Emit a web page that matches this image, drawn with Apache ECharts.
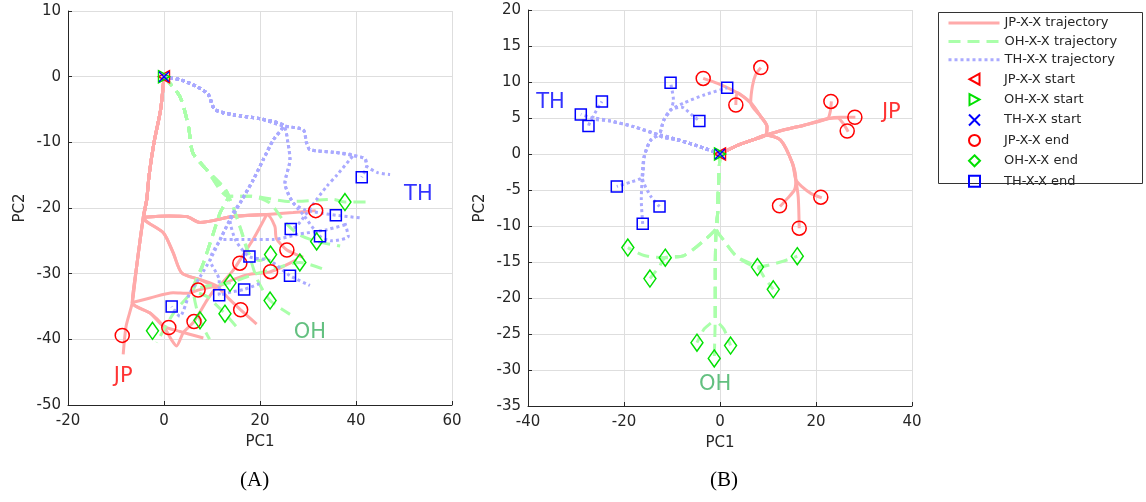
<!DOCTYPE html>
<html>
<head>
<meta charset="utf-8">
<script src="https://cdn.jsdelivr.net/npm/echarts@6/dist/echarts.min.js"></script>
<style>
  html, body { margin: 0; padding: 0; background: #fff; }
  #chart { width: 1146px; height: 502px; }
</style>
</head>
<body>
<div id="chart"></div>
<script>
// ---- panel A data ----
var jpTrunkA = [[0,0],[-0.7,-5],[-2.1,-10.1],[-3.1,-15],[-3.6,-18.7],[-4.3,-21.4]];
var jpLowA = [[-5.0,-25],[-5.7,-28.9],[-6.6,-34.4]];
var jpTopA = [[1,-21.2],[4.7,-21.3],[7.5,-22.2],[14.4,-21.3],[21.4,-21.0]];
var jpMidA = [[-0.1,-23.8],[1.9,-26.8],[3.7,-29.9],[7.5,-30.9],[11,-31.9]];
var jpPathsA = [
  jpTrunkA.concat(jpLowA, [[-7.9,-38],[-8.5,-42.3]]),
  jpTrunkA.concat(jpTopA, [[26.9,-20.7],[31.6,-20.4]]),
  jpTrunkA.concat(jpTopA, [[18.8,-24.5],[16.2,-27.5],[14.4,-29.5],[12,-31.5]]),
  jpTrunkA.concat(jpTopA, [[23.1,-22.8],[23.4,-24.6],[25.6,-26.4],[29,-27.5]]),
  jpTrunkA.concat(jpMidA, [[14.4,-30.9],[17.9,-30.1],[22.2,-29.7],[27.6,-27.9]]),
  jpTrunkA.concat(jpLowA, [[-2.9,-33.7],[1.9,-32.9],[5,-33],[7.1,-32.5],[11,-31.9]]),
  jpTrunkA.concat(jpLowA, [[-2.9,-36],[-0.1,-38],[3.3,-38.8],[8.2,-39.8]]),
  jpTrunkA.concat(jpLowA, [[-2.9,-36],[-0.1,-38],[1.5,-40],[2.6,-41],[4,-39],[6.25,-37.3],[9,-34],[11,-31.9]]),
  jpTrunkA.concat(jpMidA, [[13.5,-33.8],[15.97,-35.5],[19.3,-37.7]])
];
var ohTrunkA = [[0,0],[3.3,-3],[5.1,-7.6],[6,-11.6],[8.9,-14.2],[13.4,-18.2]];
var ohLeftA = [[11.7,-20.7],[10.3,-23.8],[8.2,-28.4],[6.1,-32.4]];
var ohPathsA = [
  ohTrunkA.concat([[17.9,-18.2],[26.25,-19],[35.3,-18.7],[37.7,-19.1],[42.9,-19.1]]),
  ohTrunkA.concat(ohLeftA, [[2,-36],[-1.5,-40.5]]),
  ohTrunkA.concat(ohLeftA, [[7.5,-37.1],[9.5,-40]]),
  ohTrunkA.concat(ohLeftA, [[9.5,-31.8],[13.75,-31.4],[18,-30.3],[23.5,-29.1],[28.3,-28.3],[33.5,-29.4]]),
  ohTrunkA.concat([[15.8,-22.8],[17.6,-26.8],[20,-28],[22.2,-27.1]]),
  ohTrunkA.concat([[15.8,-22.8],[17.6,-26.8],[19.5,-31],[22.1,-34.1],[26.25,-36.2]]),
  ohTrunkA.concat([[17.9,-18.2],[22,-19.2],[25,-22],[28,-24],[31.8,-25.1],[36.7,-25.8]]),
  ohTrunkA.concat(ohLeftA, [[9,-33.5],[12.7,-36.1],[15,-38]])
];
var thTrunkA = [[0,0],[3.5,-0.5],[6.8,-1.5],[9.2,-2.7],[10.6,-5],[14.4,-5.8],[20,-6.4],[24.9,-7.5]];
var thRightA = [[29,-8.1],[29.7,-10.1],[30.4,-11.1],[35.3,-11.5],[39.4,-12]];
var thDiagA = [[22.8,-9.6],[20.7,-12.6],[18.6,-15.7],[16.2,-18.8],[13.75,-21.8]];
var thMiddleA = [[25.8,-10],[26.25,-12.6],[25.2,-16.2],[26.9,-19.2]];
var thPathsA = [
  thTrunkA.concat(thRightA, [[41.9,-12.5],[42.2,-13.6],[44.5,-14.6],[47.1,-14.9]]),
  thTrunkA.concat(thRightA, [[41.9,-12.5],[42.2,-13.6],[41.2,-15.3]]),
  thTrunkA.concat(thRightA, [[38.75,-12.6],[36,-15],[33.9,-16.7],[31.8,-18.7],[29.5,-21],[27.6,-22.8],[26.4,-23.2]]),
  thTrunkA.concat(thDiagA, [[11.7,-24.8],[9.6,-27.9],[7.5,-30.5],[5.4,-32.9],[3.3,-36.5],[1.6,-35]]),
  thTrunkA.concat(thMiddleA, [[29.5,-20.3],[33,-20.8],[35.8,-21.1],[40.8,-21.5]]),
  thTrunkA.concat(thMiddleA, [[29,-21],[32.5,-24.3],[35,-25],[38.4,-24.3],[37.7,-22.3]]),
  thTrunkA.concat(thDiagA, [[11.7,-24.8],[16,-24.8],[22.8,-24.8],[28,-24],[33.9,-23.3],[38,-22.5]]),
  thTrunkA.concat(thDiagA, [[15,-25],[17.8,-27.4],[22,-28],[26.25,-30.3],[30.4,-31.8]]),
  thTrunkA.concat(thDiagA, [[11.7,-24.8],[9.6,-27.9],[11.5,-31],[11.5,-33.3],[14,-32.8],[16.7,-32.4],[20,-31.5]])
];
var jpEndA = [[-8.7,-39.4],[1.0,-38.2],[6.25,-37.3],[7.1,-32.5],[15.8,-28.4],[15.97,-35.5],[22.2,-29.7],[25.6,-26.4],[31.6,-20.4]];
var ohEndA = [[-2.4,-38.7],[7.5,-37.1],[12.7,-36.1],[13.75,-31.4],[22.2,-27.1],[22.1,-34.1],[28.3,-28.3],[31.8,-25.1],[37.7,-19.1]];
var thEndA = [[1.6,-35.0],[11.5,-33.3],[16.7,-32.4],[17.8,-27.4],[26.4,-23.2],[26.25,-30.3],[32.5,-24.3],[35.8,-21.1],[41.2,-15.3]];
var groupLabelsA = [['JP',-8.5,-45.7],['OH',30.4,-39],['TH',53,-18]];

// ---- panel B data ----
var jpTrunkB = [[0,0],[4,1.3],[7,2],[9.5,2.6]];
var jpUpB = [[9.8,3.8],[8.5,5.2],[6.4,7.1]];
var jpRightB = [[13,3.3],[17.5,4.0],[22.4,4.9]];
var jpDownB = [[12.6,1.95],[15.1,-1.3],[15.8,-3.6]];
var jpPathsB = [
  jpTrunkB.concat(jpUpB, [[3.6,8.5],[-0.5,9.8],[-3.5,10.5]]),
  jpTrunkB.concat(jpUpB, [[6.75,9.4],[7.4,11.0],[8.5,12]]),
  jpTrunkB.concat(jpUpB, [[3.6,8.5],[3.3,6.8]]),
  jpTrunkB.concat(jpRightB, [[25,5.1],[28.2,5.1]]),
  jpTrunkB.concat(jpRightB, [[24.5,5],[25.7,4.2],[26.7,3.1]]),
  jpTrunkB.concat(jpRightB, [[23,6],[23.2,7.3]]),
  jpTrunkB.concat(jpDownB, [[17,-4.5],[19,-5.5],[21.2,-6.1]]),
  jpTrunkB.concat(jpDownB, [[16.3,-6],[16.5,-10.3]]),
  jpTrunkB.concat(jpDownB, [[15.5,-5],[14,-6.2],[12.5,-7.3]])
];
var ohTrunkB = [[0,0],[-0.3,-4],[-0.5,-8.3],[-0.8,-10.3]];
var ohLeftB = [[-3.3,-12],[-7.5,-14.1],[-11.4,-14.4]];
var ohRightB = [[0.8,-12],[3.6,-14.3],[7.8,-15.7]];
var ohDownB = [[-1,-16],[-1,-22.7]];
var ohPathsB = [
  ohTrunkB.concat(ohLeftB, [[-15.8,-14.1],[-19.2,-13]]),
  ohTrunkB.concat(ohLeftB, [[-12.7,-15.7],[-14.6,-17.3]]),
  ohTrunkB.concat(ohRightB, [[12.6,-15],[16.1,-14.2]]),
  ohTrunkB.concat(ohRightB, [[9.2,-17.1],[11.1,-18.8]]),
  ohTrunkB.concat(ohDownB, [[-3.3,-24.3],[-4.8,-26.2]]),
  ohTrunkB.concat(ohDownB, [[-1.1,-26],[-1.2,-28.4]]),
  ohTrunkB.concat(ohDownB, [[0.8,-24.3],[2.2,-26.6]])
];
var thTrunkB = [[0,0],[-5,1.2],[-9,2],[-12.5,2.6]];
var thWestB = [[-18,3.8],[-23,4.6],[-26.5,5.0]];
var thNorthB = [[-11.7,4.7],[-10.3,6.1]];
var thSouthB = [[-14.4,1.95],[-15.8,-0.4],[-16.2,-3.2]];
var thPathsB = [
  thTrunkB.concat(thWestB, [[-29,5.5]]),
  thTrunkB.concat(thWestB, [[-27.4,3.9]]),
  thTrunkB.concat(thWestB, [[-24.6,7.3]]),
  thTrunkB.concat(thNorthB, [[-7.5,7.1],[-3.3,8.2],[1.5,9.2]]),
  thTrunkB.concat(thNorthB, [[-9.7,7.5],[-10.3,9.9]]),
  thTrunkB.concat(thNorthB, [[-8,6.5],[-6,5.5],[-4.3,4.6]]),
  thTrunkB.concat(thSouthB, [[-18.6,-3.9],[-21.5,-4.5]]),
  thTrunkB.concat(thSouthB, [[-16.4,-6.4],[-16.1,-9.7]]),
  thTrunkB.concat(thSouthB, [[-14.4,-5.9],[-12.6,-7.3]])
];
var jpEndB = [[-3.5,10.5],[8.5,12.0],[3.3,6.8],[23.1,7.3],[28.1,5.1],[26.5,3.2],[21.0,-6.0],[12.4,-7.2],[16.5,-10.3]];
var ohEndB = [[-19.2,-13.0],[-11.4,-14.4],[-14.6,-17.3],[7.8,-15.7],[16.1,-14.2],[11.1,-18.8],[-4.8,-26.2],[-1.2,-28.4],[2.2,-26.6]];
var thEndB = [[-10.3,9.9],[1.5,9.2],[-24.6,7.3],[-29.0,5.5],[-27.4,3.9],[-4.3,4.6],[-21.5,-4.5],[-12.6,-7.3],[-16.1,-9.7]];
var groupLabelsB = [['TH',-35.3,7.1],['JP',35.7,5.7],['OH',-1,-32]];

var startPoint = [[0,0]];
var labelColors = { JP: '#ff0000', OH: '#3cb060', TH: '#0000ff' };

var FONT = 'DejaVu Sans';
var chart = echarts.init(document.getElementById('chart'));

function trajSeries(paths, idx, name, color, dash) {
  return paths.map(function (p) {
    return {
      type: 'line', name: name, xAxisIndex: idx, yAxisIndex: idx,
      data: p, symbol: 'none', showSymbol: false, smooth: 0.25,
      lineStyle: { color: color, width: 3, type: dash, cap: 'butt' },
      itemStyle: { color: color },
      silent: true, z: 2
    };
  });
}
function markSeries(data, idx, name, color, symbol, size) {
  return {
    type: 'scatter', name: name, xAxisIndex: idx, yAxisIndex: idx,
    data: data, symbol: symbol, symbolSize: size,
    itemStyle: { color: 'rgba(0,0,0,0)', borderColor: color, borderWidth: 1.5, opacity: 1 },
    silent: true, z: 5
  };
}
function labelSeries(list, idx) {
  return {
    type: 'scatter', xAxisIndex: idx, yAxisIndex: idx, symbolSize: 0, silent: true, z: 6,
    data: list.map(function (d) {
      return { name: d[0], value: [d[1], d[2]], label: { color: labelColors[d[0]] } };
    }),
    label: { show: true, position: 'inside', formatter: '{b}', fontSize: 21, fontFamily: FONT }
  };
}

var CROSS = 'path://M0,0L10,10M10,0L0,10';
var TRI_LEFT = 'path://M10,0L0,5.5L10,11Z';
var TRI_RIGHT = 'path://M0,0L10,5.5L0,11Z';
var series = [];
[[0, jpPathsA, ohPathsA, thPathsA, jpEndA, ohEndA, thEndA, groupLabelsA],
 [1, jpPathsB, ohPathsB, thPathsB, jpEndB, ohEndB, thEndB, groupLabelsB]].forEach(function (g) {
  var i = g[0];
  series = series.concat(
    trajSeries(g[1], i, 'JP-X-X trajectory', '#ffaaaa', 'solid'),
    trajSeries(g[2], i, 'OH-X-X trajectory', '#aaffaa', [12, 7]),
    trajSeries(g[3], i, 'TH-X-X trajectory', '#aaaaff', [3, 3])
  );
  series.push(
    markSeries(startPoint, i, 'JP-X-X start', '#ff0000', TRI_LEFT, [11, 12]),
    markSeries(startPoint, i, 'OH-X-X start', '#00e000', TRI_RIGHT, [11, 12]),
    markSeries(startPoint, i, 'TH-X-X start', '#0000ff', CROSS, 10),
    markSeries(g[4], i, 'JP-X-X end', '#ff0000', 'circle', 14),
    markSeries(g[5], i, 'OH-X-X end', '#00e000', 'diamond', [12, 17]),
    markSeries(g[6], i, 'TH-X-X end', '#0000ff', 'rect', 11),
    labelSeries(g[7], i)
  );
});

function axis(min, max, interval, name, gap, isX) {
  return {
    type: 'value', min: min, max: max, interval: interval,
    name: name, nameLocation: 'middle', nameGap: gap,
    nameTextStyle: { fontSize: 15, color: '#262626', fontFamily: FONT },
    axisLine: { show: true, onZero: false, lineStyle: { color: '#262626', width: 1 } },
    axisTick: { show: true, inside: true, length: 4, lineStyle: { color: '#262626' } },
    axisLabel: { fontSize: 15, color: '#262626', fontFamily: FONT, margin: isX ? 9 : 7 },
    splitLine: { show: true, lineStyle: { color: '#dedede', width: 1 } }
  };
}

var legendText = { fontSize: 13, color: '#262626', fontFamily: FONT, lineHeight: 14 };
var option = {
  animation: false,
  backgroundColor: '#fff',
  grid: [
    { left: 68, top: 11, width: 384, height: 394 },
    { left: 528, top: 10, width: 384, height: 396 }
  ],
  xAxis: [
    Object.assign(axis(-20, 60, 20, 'PC1', 30, true), { gridIndex: 0 }),
    Object.assign(axis(-40, 40, 20, 'PC1', 30, true), { gridIndex: 1 })
  ],
  yAxis: [
    Object.assign(axis(-50, 10, 10, 'PC2', 40, false), { gridIndex: 0 }),
    Object.assign(axis(-35, 20, 5, 'PC2', 40, false), { gridIndex: 1 })
  ],
  legend: [
    {
      orient: 'vertical', left: 947, top: 16, padding: 0, itemGap: 4.4,
      itemWidth: 51, itemHeight: 14,
      data: ['JP-X-X trajectory', 'OH-X-X trajectory', 'TH-X-X trajectory'],
      itemStyle: { color: 'rgba(0,0,0,0)', borderColor: 'rgba(0,0,0,0)', borderWidth: 0 },
      lineStyle: { width: 3 },
      textStyle: legendText, selectedMode: false, z: 10
    },
    {
      orient: 'vertical', left: 968, top: 72.7, padding: 0, itemGap: 7.4,
      itemWidth: 11, itemHeight: 11,
      data: ['JP-X-X start', 'OH-X-X start', 'TH-X-X start', 'JP-X-X end', 'OH-X-X end', 'TH-X-X end'],
      textStyle: Object.assign({}, legendText, { lineHeight: 11, padding: [0, 0, 0, 19] }),
      selectedMode: false, z: 10
    }
  ],
  graphic: [
    { type: 'rect', left: 938, top: 12, z: 1, shape: { width: 204, height: 171 },
      style: { fill: '#fff', stroke: '#333', lineWidth: 1 } },
    { type: 'text', left: 240, top: 470, style: { text: '(A)', font: '21px "Liberation Serif"', fill: '#000' } },
    { type: 'text', left: 710, top: 470, style: { text: '(B)', font: '21px "Liberation Serif"', fill: '#000' } }
  ],
  series: series
};
chart.setOption(option);
</script>
</body>
</html>
